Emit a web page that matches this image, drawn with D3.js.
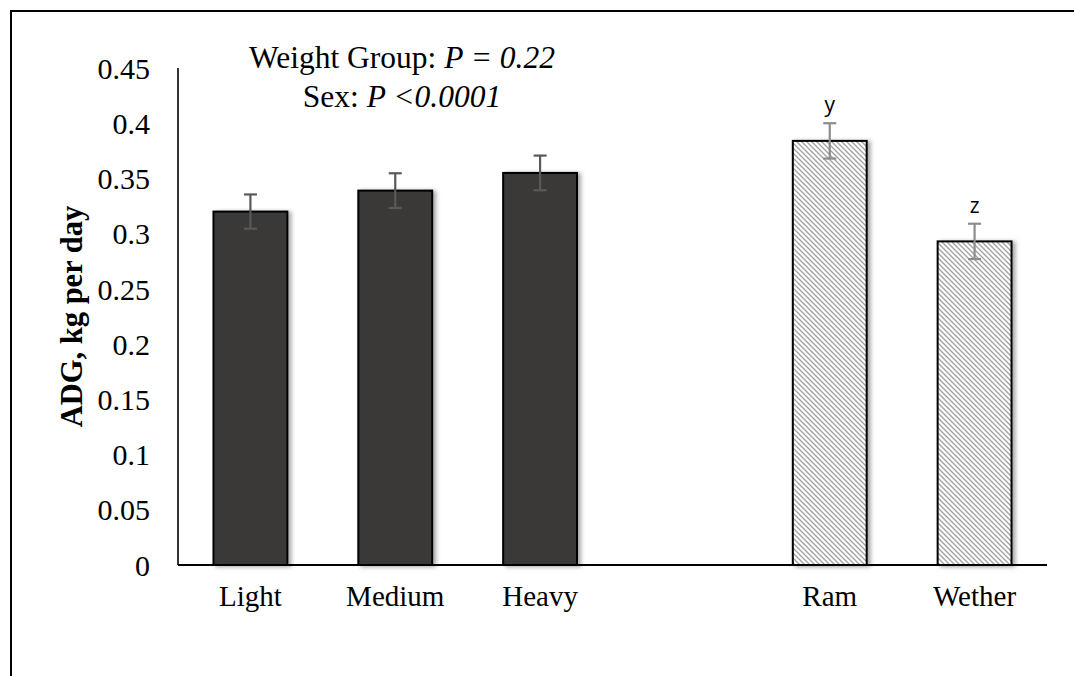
<!DOCTYPE html>
<html>
<head>
<meta charset="utf-8">
<script src="https://cdn.jsdelivr.net/npm/d3@7/dist/d3.min.js"></script>
<style>
  html, body { margin: 0; padding: 0; background: #fff; }
  svg { display: block; }
</style>
</head>
<body>
<script>
// Average daily gain by weight group and by sex
const categories = ["Light", "Medium", "Heavy", "", "Ram", "Wether"];
const groups     = ["weight", "weight", "weight", null, "sex", "sex"];
const adg        = [0.320, 0.339, 0.355, null, 0.384, 0.293];
const sem        = [0.0155, 0.0157, 0.0157, null, 0.016, 0.016];
const letters    = ["", "", "", "", "y", "z"];
const yTicks     = [0, 0.05, 0.1, 0.15, 0.2, 0.25, 0.3, 0.35, 0.4, 0.45];
const tickLabels = ["0", "0.05", "0.1", "0.15", "0.2", "0.25", "0.3", "0.35", "0.4", "0.45"];
const noteLines  = [
  [{t: "Weight Group: ", i: false}, {t: "P = 0.22", i: true}],
  [{t: "Sex: ", i: false}, {t: "P <0.0001", i: true}]
];

const SERIF = "'Liberation Serif', 'Times New Roman', serif";
const SANS = "'Open Sans', 'Liberation Sans', sans-serif";

const W = 1074, H = 676;
const plot = {left: 178, right: 1047, top: 68, bottom: 565};

const svg = d3.select("body").append("svg").attr("width", W).attr("height", H);

const defs = svg.append("defs");
const hatch = defs.append("pattern")
  .attr("id", "hatch").attr("patternUnits", "userSpaceOnUse")
  .attr("width", 5).attr("height", 5);
hatch.append("rect").attr("width", 5).attr("height", 5).attr("fill", "#fff");
hatch.append("path").attr("d", "M0,0 L5,5 M-1,4 L1,6 M4,-1 L6,1")
  .attr("stroke", "#a0a0a0").attr("stroke-width", 1.3);

const shadow = defs.append("filter").attr("id", "shadow")
  .attr("x", "-10%").attr("y", "-10%").attr("width", "130%").attr("height", "120%");
shadow.append("feDropShadow").attr("dx", 3).attr("dy", 1).attr("stdDeviation", 2)
  .attr("flood-color", "#000").attr("flood-opacity", 0.35);

// outer frame
svg.append("rect").attr("x", 11).attr("y", 11).attr("width", 1100).attr("height", 700)
  .attr("fill", "none").attr("stroke", "#000").attr("stroke-width", 2);

const x = d3.scaleBand().domain(d3.range(categories.length))
  .range([plot.left, plot.right]).paddingInner(0.49).paddingOuter(0.245);
const y = d3.scaleLinear().domain([0, 0.45]).range([plot.bottom, plot.top]);

// y tick labels
const yAxis = d3.axisLeft(y).tickValues(yTicks).tickSize(0).tickPadding(28)
  .tickFormat((d, i) => tickLabels[i]);
const gy = svg.append("g").attr("transform", `translate(${plot.left},0)`).call(yAxis);
gy.select(".domain").remove();
gy.attr("font-family", null).attr("font-size", null);
gy.selectAll("text").style("font-family", SERIF)
  .style("font-size", "30px").attr("fill", "#000").attr("dy", "0.34em");

// bars
const data = categories.map((c, i) => ({c, i, g: groups[i], v: adg[i], e: sem[i], l: letters[i]}))
  .filter(d => d.v !== null);

svg.append("g").selectAll("rect").data(data).join("rect")
  .attr("x", d => x(d.i)).attr("width", x.bandwidth())
  .attr("y", d => y(d.v)).attr("height", d => y(0) - y(d.v))
  .attr("fill", d => d.g === "weight" ? "#3a3838" : "url(#hatch)")
  .attr("stroke", "#000").attr("stroke-width", 2)
  .attr("filter", "url(#shadow)");

// error bars
const eb = svg.append("g").selectAll("g").data(data).join("g")
  .attr("stroke", d => d.g === "weight" ? "#595959" : "#8c8c8c")
  .attr("stroke-width", 2.2);
eb.append("line")
  .attr("x1", d => x(d.i) + x.bandwidth() / 2).attr("x2", d => x(d.i) + x.bandwidth() / 2)
  .attr("y1", d => y(d.v + d.e)).attr("y2", d => y(d.v - d.e));
eb.append("line")
  .attr("x1", d => x(d.i) + x.bandwidth() / 2 - 6.5).attr("x2", d => x(d.i) + x.bandwidth() / 2 + 6.5)
  .attr("y1", d => y(d.v + d.e)).attr("y2", d => y(d.v + d.e));
eb.append("line")
  .attr("x1", d => x(d.i) + x.bandwidth() / 2 - 6.5).attr("x2", d => x(d.i) + x.bandwidth() / 2 + 6.5)
  .attr("y1", d => y(d.v - d.e)).attr("y2", d => y(d.v - d.e));

// significance letters
svg.append("g").selectAll("text").data(data.filter(d => d.l)).join("text")
  .attr("x", d => x(d.i) + x.bandwidth() / 2)
  .attr("y", d => y(d.v + d.e) - 11)
  .attr("text-anchor", "middle")
  .style("font-family", SANS)
  .style("font-size", "21px").attr("fill", "#000")
  .text(d => d.l);

// axes lines
svg.append("line").attr("x1", plot.left).attr("x2", plot.left)
  .attr("y1", plot.top).attr("y2", plot.bottom)
  .attr("stroke", "#000").attr("stroke-width", 1.6);
svg.append("line").attr("x1", plot.left).attr("x2", plot.right)
  .attr("y1", plot.bottom).attr("y2", plot.bottom)
  .attr("stroke", "#000").attr("stroke-width", 2);

// category labels
svg.append("g").selectAll("text").data(categories.map((c, i) => ({c, i})).filter(d => d.c))
  .join("text")
  .attr("x", d => x(d.i) + x.bandwidth() / 2).attr("y", 606)
  .attr("text-anchor", "middle")
  .style("font-family", SERIF)
  .style("font-size", "29px").attr("fill", "#000")
  .text(d => d.c);

// y-axis title
svg.append("text")
  .attr("transform", `translate(82,${(plot.top + plot.bottom) / 2}) rotate(-90)`)
  .attr("text-anchor", "middle")
  .style("font-family", SERIF)
  .style("font-size", "30.5px").style("font-weight", "bold").attr("fill", "#000")
  .text("ADG, kg per day");

// statistics note
noteLines.forEach((line, li) => {
  const t = svg.append("text")
    .attr("x", 402).attr("y", li === 0 ? 68 : 107)
    .attr("text-anchor", "middle")
    .style("font-family", SERIF)
    .style("font-size", "31.5px").attr("fill", "#000");
  line.forEach(seg => {
    t.append("tspan").style("font-style", seg.i ? "italic" : "normal").text(seg.t);
  });
});
</script>
</body>
</html>
